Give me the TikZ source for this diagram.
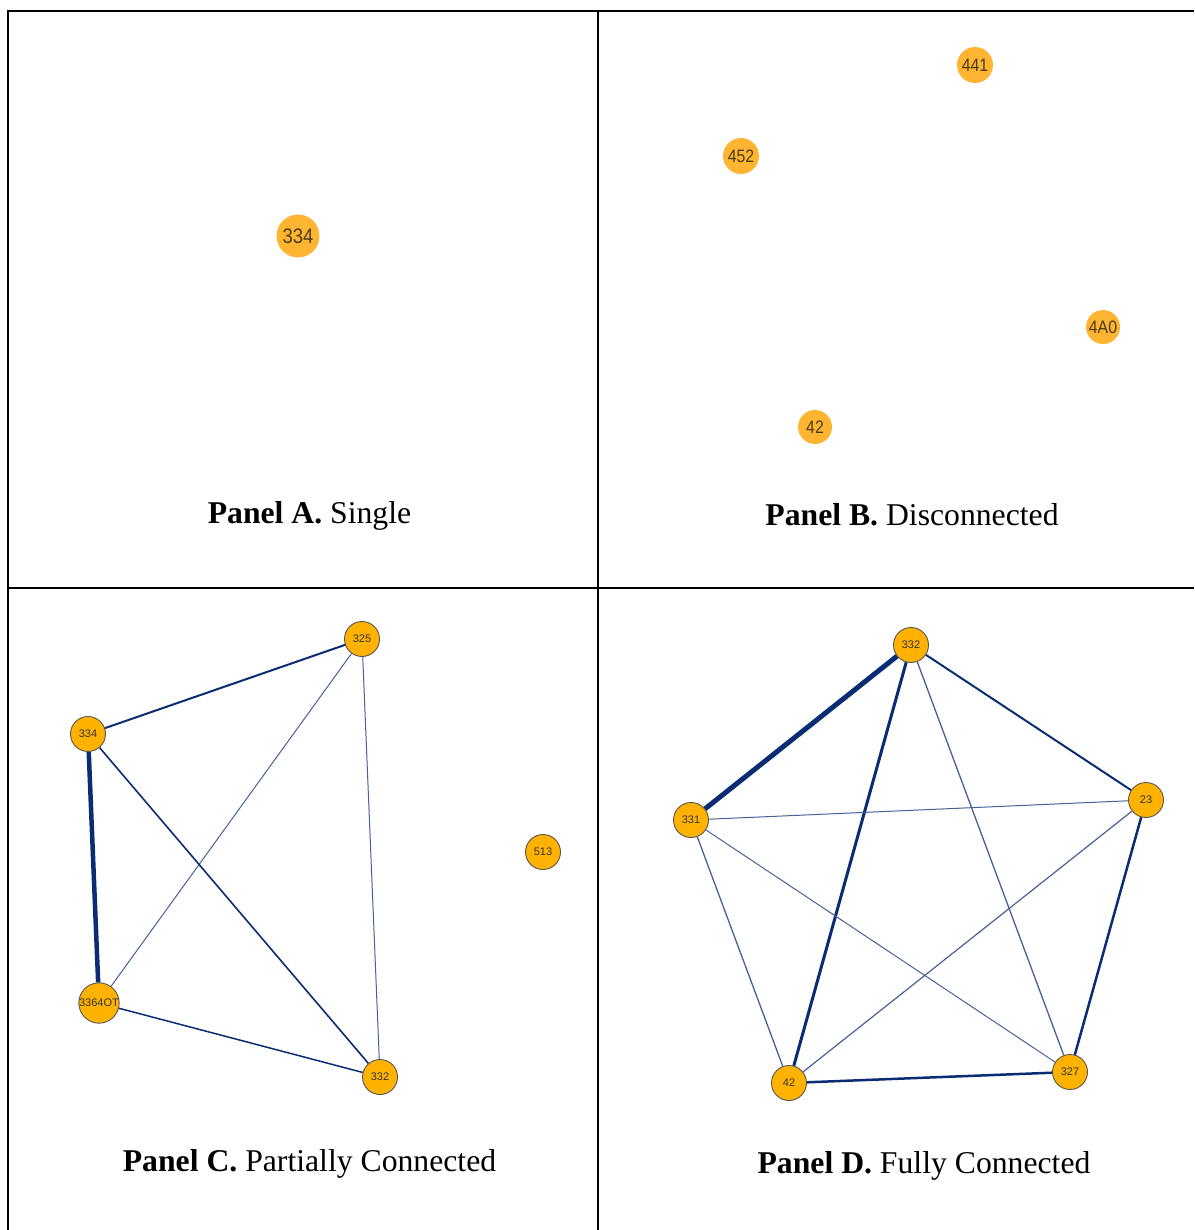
\documentclass[tikz,border=0pt]{standalone}
\usepackage{fontspec}
\usepackage{graphicx}
\setmainfont{Liberation Serif}
\newfontfamily\lblfont{Liberation Sans}

\definecolor{softorange}{HTML}{FFB531}
\definecolor{gold}{HTML}{FFB300}
\definecolor{rimgray}{HTML}{555555}
\definecolor{lbltext}{HTML}{4A3B12}
\definecolor{navy}{HTML}{0A2C72}

% narrow digits for the soft node labels
\newcommand{\narrowlbl}[1]{\scalebox{0.88}[1]{#1}}

\tikzset{
  frame/.style={line width=2pt, black},
  softnode/.style={circle, fill=softorange, inner sep=0pt, minimum size=#1,
    text=lbltext, font=\lblfont\fontsize{18}{18}\selectfont},
  netnode/.style={circle, fill=gold, draw=rimgray, line width=0.9pt, inner sep=0pt,
    minimum size=35pt, text=black!80, font=\lblfont\fontsize{11}{11}\selectfont},
  caption/.style={anchor=base, font=\fontsize{31.7}{36}\selectfont},
  tie/.style={draw=navy, line width=#1},
  faint/.style={draw=navy!75, line width=#1},
}

\begin{document}
\begin{tikzpicture}[x=1pt,y=-1pt]
\useasboundingbox (0,0) rectangle (1194,1230);

% table frame
\draw[frame] (8,1230) -- (8,11) -- (1194,11);
\draw[frame] (598,11) -- (598,1230);
\draw[frame] (8,588) -- (1194,588);

% Panel A
\node[softnode=43pt, font=\lblfont\fontsize{21}{21}\selectfont] (a334) at (298,236) {\narrowlbl{334}};
\node[caption] (capA) at (309.5,523) {\textbf{Panel A.} Single};

% Panel B
\node[softnode=36pt] (b441) at (975,65) {\narrowlbl{441}};
\node[softnode=36pt] (b452) at (741,156) {\narrowlbl{452}};
\node[softnode=34pt] (b4A0) at (1103,327) {\narrowlbl{4A0}};
\node[softnode=34pt] (b42) at (815,427) {\narrowlbl{42}};
\node[caption] (capB) at (912,525) {\textbf{Panel B.} Disconnected};

% Panel C
\node[netnode] (c325) at (362,639) {325};
\node[netnode] (c334) at (88,734) {334};
\node[netnode] (c513) at (543,852) {513};
\node[netnode] (c3364) at (99,1003) {3364OT};
\node[netnode] (c332) at (380,1077) {332};
\draw[tie=2pt] (c334) -- (c325);
\draw[faint=1pt] (c325) -- (c3364);
\draw[faint=1pt] (c325) -- (c332);
\draw[tie=4.5pt] (c334) -- (c3364);
\draw[tie=1.6pt] (c334) -- (c332);
\draw[tie=1.5pt] (c3364) -- (c332);
\node[caption] (capC) at (309.5,1171) {\textbf{Panel C.} Partially Connected};

% Panel D
\node[netnode] (d332) at (911,645) {332};
\node[netnode] (d331) at (691,820) {331};
\node[netnode] (d23) at (1146,800) {23};
\node[netnode] (d42) at (789,1083) {42};
\node[netnode] (d327) at (1070,1072) {327};
\draw[tie=5pt] (d332) -- (d331);
\draw[tie=3pt] (d332) -- (d42);
\draw[faint=1.3pt] (d332) -- (d327);
\draw[tie=2pt] (d332) -- (d23);
\draw[faint=1pt] (d331) -- (d23);
\draw[faint=1.3pt] (d331) -- (d42);
\draw[faint=1pt] (d331) -- (d327);
\draw[faint=1.2pt] (d23) -- (d42);
\draw[tie=2.5pt] (d23) -- (d327);
\draw[tie=2.5pt] (d42) -- (d327);
\node[caption] (capD) at (924,1173) {\textbf{Panel D.} Fully Connected};
\end{tikzpicture}
\end{document}
